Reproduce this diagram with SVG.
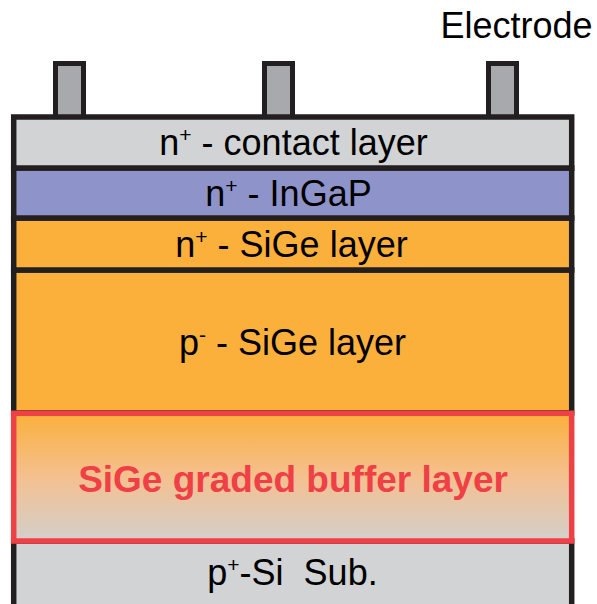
<svg xmlns="http://www.w3.org/2000/svg" width="597" height="604" viewBox="0 0 597 604">
<defs>
<linearGradient id="grad" x1="0" y1="0" x2="0" y2="1">
<stop offset="0" stop-color="#fbb03b"/>
<stop offset="0.5" stop-color="#f4c090"/>
<stop offset="1" stop-color="#d3cfcc"/>
</linearGradient>
<style>
.lay{stroke:#231f20;stroke-width:5.5}
.el{fill:#a7a9ac;stroke:#231f20;stroke-width:5}
.t{font-family:"Liberation Sans",Arial,sans-serif;font-size:36px;fill:#000;text-anchor:middle;white-space:pre}
.b{font-family:"Liberation Sans",Arial,sans-serif;font-size:37px;font-weight:bold;fill:#ef4046;text-anchor:middle}
.s{font-size:21px}
</style>
</defs>
<rect width="597" height="604" fill="#fff"/>
<g id="electrodes">
<rect class="el" x="55.5" y="63.5" width="28" height="60"/>
<rect class="el" x="264.5" y="63.5" width="28" height="60"/>
<rect class="el" x="488.5" y="63.5" width="28" height="60"/>
<text class="t" x="516.5" y="37.5">Electrode</text>
</g>
<g id="substrate">
<rect class="lay" x="13.7" y="541" width="558" height="70" fill="#d1d3d4"/>
<text class="t" x="292.5" y="585" xml:space="preserve">p<tspan class="s" dy="-13">+</tspan><tspan dy="13">-Si  Sub.</tspan></text>
</g>
<g id="p-sige">
<rect class="lay" x="13.7" y="270" width="558" height="143" fill="#fbb03b"/>
<text class="t" x="292.5" y="355">p<tspan class="s" dy="-13">-</tspan><tspan dy="13"> - SiGe layer</tspan></text>
</g>
<g id="n-sige">
<rect class="lay" x="13.7" y="218" width="558" height="52" fill="#fbb03b"/>
<text class="t" x="291.5" y="256.5">n<tspan class="s" dy="-13">+</tspan><tspan dy="13"> - SiGe layer</tspan></text>
</g>
<g id="ingap">
<rect class="lay" x="13.7" y="168" width="558" height="50" fill="#8e94c9"/>
<text class="t" x="288.5" y="206">n<tspan class="s" dy="-13">+</tspan><tspan dy="13"> - InGaP</tspan></text>
</g>
<g id="contact">
<rect class="lay" x="13.7" y="117" width="558" height="51" fill="#d1d3d4"/>
<text class="t" x="293.5" y="155">n<tspan class="s" dy="-13">+</tspan><tspan dy="13"> - contact layer</tspan></text>
</g>
<g id="buffer">
<rect x="13.7" y="413.3" width="558" height="127.7" fill="url(#grad)" stroke="#ef4046" stroke-width="5.5"/>
<text class="b" x="293" y="492">SiGe graded buffer layer</text>
</g>
</svg>
